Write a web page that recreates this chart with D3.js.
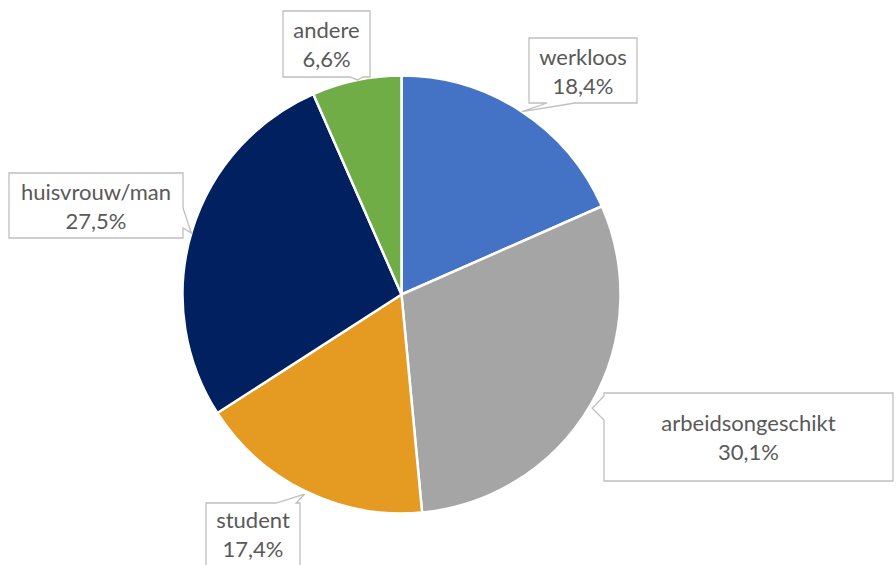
<!DOCTYPE html>
<html>
<head>
<meta charset="utf-8">
<script src="https://cdn.jsdelivr.net/npm/d3@7"></script>
<style>
  body { margin: 0; background: #fff; }
  svg { display: block; }
</style>
</head>
<body>
<svg width="896" height="565"></svg>
<script>
const categories = ["werkloos", "arbeidsongeschikt", "student", "huisvrouw/man", "andere"];
const values = [18.4, 30.1, 17.4, 27.5, 6.6];
const labels = ["18,4%", "30,1%", "17,4%", "27,5%", "6,6%"];
const colors = ["#4472C4", "#A5A5A5", "#E59B21", "#002060", "#70AD47"];

// callout boxes (layout only): rect, side of pointer, pointer base, tip angle/radius
const callouts = [
  { x: 529, y: 38, w: 108, h: 65, side: "bottom", b: [547, 575], tipA: 33.4, tipR: 219 },
  { x: 604, y: 393, w: 289, h: 88, side: "left", b: [396, 420], tipA: 120.8, tipR: 222 },
  { x: 206, y: 503, w: 94, h: 70, side: "top", b: [276, 296], tipA: 205.9, tipR: 222 },
  { x: 9, y: 173, w: 174, h: 65, side: "right", b: [208, 228], tipA: 286.3, tipR: 219 },
  { x: 283, y: 11, w: 87, h: 66, side: "bottom", b: [350, 363], tipA: 348.4, tipR: 219 }
];

const svg = d3.select("svg"),
  cx = 401.5,
  cy = 294.5,
  radius = 219;

const g = svg.append("g").attr("transform", `translate(${cx},${cy})`);

const pie = d3.pie().sort(null).value(d => d)(values);
const arc = d3.arc().innerRadius(0).outerRadius(radius);

g.selectAll("path.slice")
  .data(pie)
  .join("path")
  .attr("class", "slice")
  .attr("d", arc)
  .attr("fill", (d, i) => colors[i])
  .attr("stroke", "#fff")
  .attr("stroke-width", 2.5)
  .attr("stroke-linejoin", "round");

function calloutPath(c, tx, ty) {
  const x0 = c.x, y0 = c.y, x1 = c.x + c.w, y1 = c.y + c.h;
  const p = [];
  p.push([x0, y0]);
  if (c.side === "top") { p.push([c.b[0], y0], [tx, ty], [c.b[1], y0]); }
  p.push([x1, y0]);
  if (c.side === "right") { p.push([x1, c.b[0]], [tx, ty], [x1, c.b[1]]); }
  p.push([x1, y1]);
  if (c.side === "bottom") { p.push([c.b[1], y1], [tx, ty], [c.b[0], y1]); }
  p.push([x0, y1]);
  if (c.side === "left") { p.push([x0, c.b[1]], [tx, ty], [x0, c.b[0]]); }
  return "M" + p.map(q => q.join(",")).join("L") + "Z";
}

const lab = svg.append("g").attr("class", "labels");

callouts.forEach((c, i) => {
  const a = c.tipA * Math.PI / 180;
  const tx = cx + c.tipR * Math.sin(a),
    ty = cy - c.tipR * Math.cos(a);

  lab.append("path")
    .attr("d", calloutPath(c, tx, ty))
    .attr("fill", "#fff")
    .attr("stroke", "#BFBFBF")
    .attr("stroke-width", 1.3);

  const midX = c.x + c.w / 2,
    midY = (i === 2) ? 534 : c.y + c.h / 2;

  const t = lab.append("text")
    .attr("x", midX)
    .attr("text-anchor", "middle")
    .attr("font-family", "Lato, 'Open Sans', sans-serif")
    .attr("font-size", 22)
    .attr("fill", "#595959");
  t.append("tspan").attr("x", midX).attr("y", midY - 6).text(categories[i]);
  t.append("tspan").attr("x", midX).attr("y", midY + 23).text(labels[i]);
});
</script>
</body>
</html>
